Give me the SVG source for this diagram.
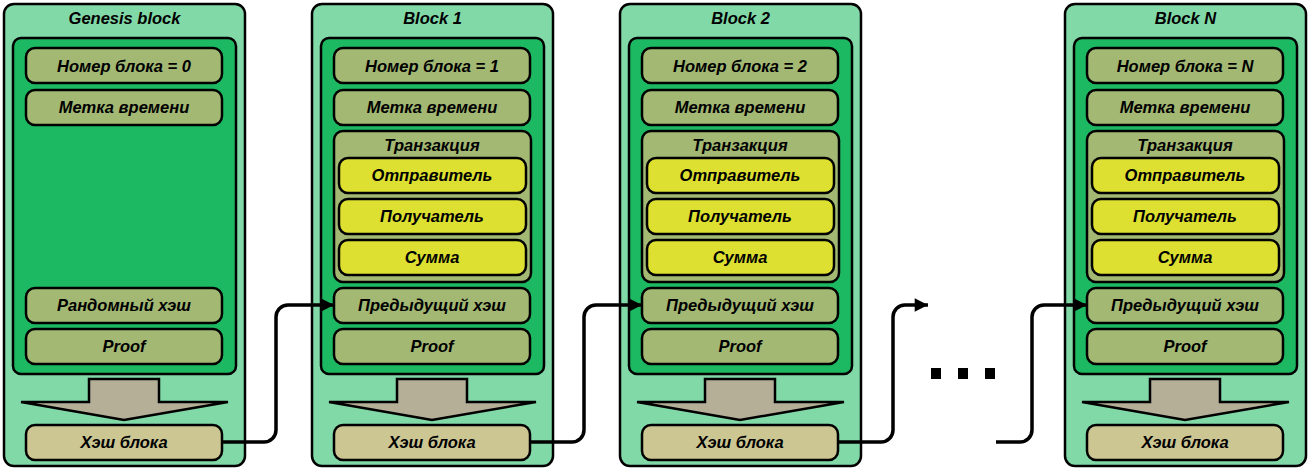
<svg xmlns="http://www.w3.org/2000/svg" xmlns:xlink="http://www.w3.org/1999/xlink" width="1310" height="471" viewBox="0 0 1310 471">
<defs>
<style>
.outer{fill:#82d9a8;stroke:#000;stroke-width:2.5}
.inner{fill:#1db862;stroke:#000;stroke-width:2.5}
.field{fill:#a3b873;stroke:#000;stroke-width:2.5}
.tx{fill:#a3b873;stroke:#000;stroke-width:2.5}
.sub{fill:#dde030;stroke:#000;stroke-width:2.5}
.hash{fill:#ccc693;stroke:#000;stroke-width:2.5}
.down{fill:#b5af98;stroke:#000;stroke-width:2.5;stroke-linejoin:miter}
text{font-family:"Liberation Sans",Arial,sans-serif;font-weight:bold;font-style:italic;font-size:16.5px;fill:#000;text-anchor:middle}
.conn{fill:none;stroke:#000;stroke-width:3.5}
</style>
<marker id="ah" viewBox="0 0 10 10" refX="10" refY="5" markerWidth="4" markerHeight="3.8" orient="auto" markerUnits="strokeWidth">
<path d="M0,0 L10,5 L0,10 z" fill="#000"/>
</marker>
</defs>

<g id="genesis">
<rect class="outer" x="4" y="4" width="241" height="462" rx="10"/>
<text x="124.5" y="24">Genesis block</text>
<rect class="inner" x="13" y="38" width="223" height="336" rx="8"/>
<rect class="field" x="26" y="48" width="196" height="35" rx="9"/>
<text x="124" y="71.5">Номер блока = 0</text>
<rect class="field" x="26" y="90" width="196" height="35" rx="9"/>
<text x="124" y="112.5">Метка времени</text>
<rect class="field" x="26" y="288" width="196" height="35" rx="9"/>
<text x="124" y="310.5">Рандомный хэш</text>
<rect class="field" x="26" y="329" width="196" height="35" rx="9"/>
<text x="124" y="351.5">Proof</text>
<polygon class="down" points="89,379 159,379 159,402 228,402 124,420 21,402 89,402"/>
<rect class="hash" x="26" y="425" width="196" height="35" rx="9"/>
<text x="124" y="447.5">Хэш блока</text>
</g>

<g id="block1" transform="translate(308,0)">
<rect class="outer" x="4" y="4" width="241" height="462" rx="10"/>
<text x="124.5" y="24">Block 1</text>
<rect class="inner" x="13" y="38" width="223" height="336" rx="8"/>
<rect class="field" x="26" y="48" width="196" height="35" rx="9"/>
<text x="124" y="71.5">Номер блока = 1</text>
<rect class="field" x="26" y="90" width="196" height="35" rx="9"/>
<text x="124" y="112.5">Метка времени</text>
<rect class="tx" x="26" y="131" width="197" height="151" rx="9"/>
<text x="124" y="150.5">Транзакция</text>
<rect class="sub" x="31" y="158" width="187" height="35" rx="9"/>
<text x="124" y="180.5">Отправитель</text>
<rect class="sub" x="31" y="199" width="187" height="35" rx="9"/>
<text x="124" y="221.5">Получатель</text>
<rect class="sub" x="31" y="240" width="187" height="35" rx="9"/>
<text x="124" y="262.5">Сумма</text>
<rect class="field" x="26" y="288" width="196" height="35" rx="9"/>
<text x="124" y="310.5">Предыдущий хэш</text>
<rect class="field" x="26" y="329" width="196" height="35" rx="9"/>
<text x="124" y="351.5">Proof</text>
<polygon class="down" points="89,379 159,379 159,402 228,402 124,420 21,402 89,402"/>
<rect class="hash" x="26" y="425" width="196" height="35" rx="9"/>
<text x="124" y="447.5">Хэш блока</text>
</g>

<g id="block2" transform="translate(616,0)">
<rect class="outer" x="4" y="4" width="241" height="462" rx="10"/>
<text x="124.5" y="24">Block 2</text>
<rect class="inner" x="13" y="38" width="223" height="336" rx="8"/>
<rect class="field" x="26" y="48" width="196" height="35" rx="9"/>
<text x="124" y="71.5">Номер блока = 2</text>
<rect class="field" x="26" y="90" width="196" height="35" rx="9"/>
<text x="124" y="112.5">Метка времени</text>
<rect class="tx" x="26" y="131" width="197" height="151" rx="9"/>
<text x="124" y="150.5">Транзакция</text>
<rect class="sub" x="31" y="158" width="187" height="35" rx="9"/>
<text x="124" y="180.5">Отправитель</text>
<rect class="sub" x="31" y="199" width="187" height="35" rx="9"/>
<text x="124" y="221.5">Получатель</text>
<rect class="sub" x="31" y="240" width="187" height="35" rx="9"/>
<text x="124" y="262.5">Сумма</text>
<rect class="field" x="26" y="288" width="196" height="35" rx="9"/>
<text x="124" y="310.5">Предыдущий хэш</text>
<rect class="field" x="26" y="329" width="196" height="35" rx="9"/>
<text x="124" y="351.5">Proof</text>
<polygon class="down" points="89,379 159,379 159,402 228,402 124,420 21,402 89,402"/>
<rect class="hash" x="26" y="425" width="196" height="35" rx="9"/>
<text x="124" y="447.5">Хэш блока</text>
</g>

<g id="blockN" transform="translate(1061,0)">
<rect class="outer" x="4" y="4" width="241" height="462" rx="10"/>
<text x="124.5" y="24">Block N</text>
<rect class="inner" x="13" y="38" width="223" height="336" rx="8"/>
<rect class="field" x="26" y="48" width="196" height="35" rx="9"/>
<text x="124" y="71.5">Номер блока = N</text>
<rect class="field" x="26" y="90" width="196" height="35" rx="9"/>
<text x="124" y="112.5">Метка времени</text>
<rect class="tx" x="26" y="131" width="197" height="151" rx="9"/>
<text x="124" y="150.5">Транзакция</text>
<rect class="sub" x="31" y="158" width="187" height="35" rx="9"/>
<text x="124" y="180.5">Отправитель</text>
<rect class="sub" x="31" y="199" width="187" height="35" rx="9"/>
<text x="124" y="221.5">Получатель</text>
<rect class="sub" x="31" y="240" width="187" height="35" rx="9"/>
<text x="124" y="262.5">Сумма</text>
<rect class="field" x="26" y="288" width="196" height="35" rx="9"/>
<text x="124" y="310.5">Предыдущий хэш</text>
<rect class="field" x="26" y="329" width="196" height="35" rx="9"/>
<text x="124" y="351.5">Proof</text>
<polygon class="down" points="89,379 159,379 159,402 228,402 124,420 21,402 89,402"/>
<rect class="hash" x="26" y="425" width="196" height="35" rx="9"/>
<text x="124" y="447.5">Хэш блока</text>
</g>

<g id="ellipsis">
<rect x="931" y="368" width="10" height="11" fill="#000"/>
<rect x="958" y="368" width="10" height="11" fill="#000"/>
<rect x="985" y="368" width="10" height="11" fill="#000"/>
</g>

<g id="connectors">
<path class="conn" d="M222,442 H264 A12,12 0 0 0 276,430 V317 A12,12 0 0 1 288,305 H334" marker-end="url(#ah)"/>
<path class="conn" d="M530,442 H572 A12,12 0 0 0 584,430 V317 A12,12 0 0 1 596,305 H642" marker-end="url(#ah)"/>
<path class="conn" d="M838,442 H881 A12,12 0 0 0 893,430 V317 A12,12 0 0 1 905,305 H928" marker-end="url(#ah)"/>
<path class="conn" d="M996,442 H1020 A12,12 0 0 0 1032,430 V317 A12,12 0 0 1 1044,305 H1087" marker-end="url(#ah)"/>
</g>
</svg>
